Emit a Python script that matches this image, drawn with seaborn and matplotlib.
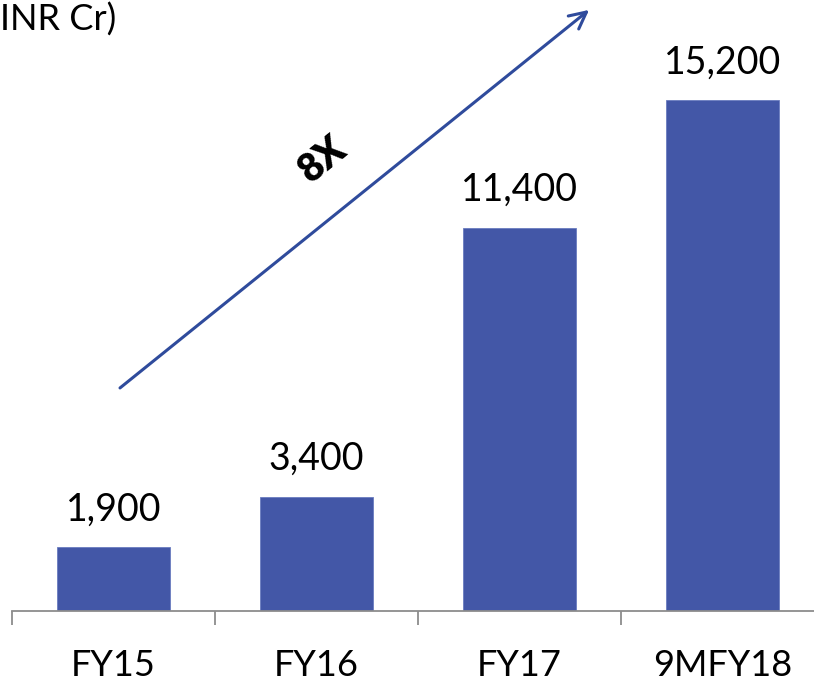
import matplotlib
matplotlib.use("Agg")
import matplotlib.pyplot as plt
from matplotlib.ticker import FixedLocator
import seaborn as sns
import pandas as pd

periods = ["FY15", "FY16", "FY17", "9MFY18"]
revenue = [1900, 3400, 11400, 15200]
value_labels = ["1,900", "3,400", "11,400", "15,200"]
unit_label = "INR Cr)"
growth_label = "8X"

sns.set_theme(style="white")
plt.rcParams["font.family"] = ["Lato", "DejaVu Sans"]

df = pd.DataFrame({"period": periods, "revenue": revenue})

fig = plt.figure(figsize=(8.14, 6.84), dpi=100)
ax = fig.add_axes([12 / 814, 73 / 684, 812 / 814, 611 / 684])

bar_color = "#4357A7"
sns.barplot(data=df, x="period", y="revenue", color=bar_color, width=0.56,
            saturation=1, edgecolor="#6a7cc0", linewidth=0.6, ax=ax)

ax.set_xlim(-0.5, 3.5)
ax.set_ylim(0, 18170)
ax.set_xlabel("")
ax.set_ylabel("")
ax.set_yticks([])
for side in ("left", "right", "top"):
    ax.spines[side].set_visible(False)
ax.spines["bottom"].set_color("#8c8c8c")
ax.spines["bottom"].set_linewidth(1.3)

ax.tick_params(axis="x", which="major", length=0, pad=27, labelsize=26,
               labelcolor="black")
ax.xaxis.set_minor_locator(FixedLocator([-0.5, 0.5, 1.5, 2.5, 3.5]))
ax.tick_params(axis="x", which="minor", length=10, width=1.3,
               color="#8c8c8c", direction="out", bottom=True)

for i, (v, lab) in enumerate(zip(revenue, value_labels)):
    ax.annotate(lab, xy=(i, v), xytext=(0, 14), textcoords="offset points",
                ha="center", va="bottom", fontsize=27, color="black")

# growth arrow across the bars
ax.annotate("", xy=(2.343, 17876), xytext=(0.032, 6633),
            arrowprops=dict(arrowstyle="->", color="#2f4b9c", lw=2.2,
                            mutation_scale=30, shrinkA=0, shrinkB=0))
ax.text(1.03, 13415, growth_label, rotation=39, ha="center", va="center",
        fontsize=28, fontweight="heavy", color="black")

fig.text(0.0, 1 - 20 / 684, unit_label, ha="left", va="center", fontsize=26,
         color="black")

fig.savefig("out.png", dpi=100)
